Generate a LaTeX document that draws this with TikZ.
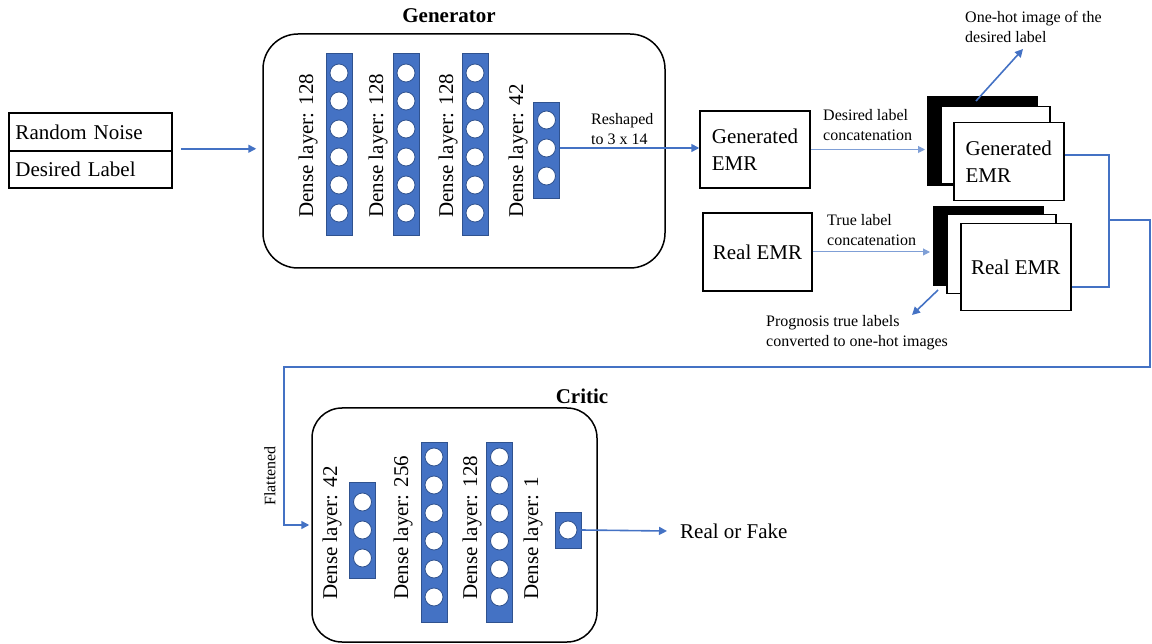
\documentclass[tikz,border=0pt]{standalone}
\usepackage{fontspec}
\setmainfont{Liberation Serif}
\usetikzlibrary{arrows.meta}
\definecolor{lay}{HTML}{4472C4}
\definecolor{layedge}{HTML}{2F528F}
\definecolor{flow}{HTML}{4472C4}
\definecolor{thinflow}{HTML}{7F9FD6}
\begin{document}
\begin{tikzpicture}[x=1pt,y=-1pt,
  big/.style={font=\fontsize{21}{27}\selectfont},
  small/.style={font=\fontsize{16}{20}\selectfont},
  title/.style={font=\fontsize{21}{26}\selectfont\bfseries},
  layer/.style={draw=layedge, fill=lay, line width=0.8pt, minimum width=26pt, inner sep=0pt},
  unit/.style={circle, draw=layedge, fill=white, line width=0.8pt, minimum size=18pt, inner sep=0pt},
  laylabel/.style={big, rotate=90, anchor=west, inner sep=0pt},
  plainbox/.style={draw, line width=1.5pt, inner sep=0pt},
  sheet/.style={draw, line width=1.5pt, inner sep=0pt, anchor=north west},
  note/.style={small, align=left, anchor=west, inner sep=0pt},
  arr/.style={draw=flow, line width=1.6pt, -{Triangle[length=8pt,width=8pt]}},
  thinarr/.style={draw=thinflow, line width=1pt, -{Triangle[length=7pt,width=7pt]}},
  wire/.style={draw=flow, line width=1.6pt}]
\useasboundingbox (0,0) rectangle (1152,644);

% ---------- inputs ----------
\node[plainbox, minimum width=163pt, minimum height=38pt, text width=150pt, align=left, big] (rn) at (90.5,132) {Random Noise};
\node[plainbox, minimum width=163pt, minimum height=37pt, text width=150pt, align=left, big] (dl) at (90.5,169.5) {Desired Label};

% ---------- generator ----------
\node[draw, line width=1.5pt, rounded corners=35pt, minimum width=402pt, minimum height=234pt] (gen) at (464,151) {};
\node[title] (gentitle) at (449,16) {Generator};

\node[layer, minimum height=182pt] (g1) at (339,144) {};
\node[layer, minimum height=182pt] (g2) at (406,144) {};
\node[layer, minimum height=182pt] (g3) at (475,144) {};
\node[layer, minimum height=96pt] (g4) at (546.5,150) {};
\foreach \k in {0,...,5}{
  \node[unit] (g1u\k) at (339,{73+28*\k}) {};
  \node[unit] (g2u\k) at (406,{73+28*\k}) {};
  \node[unit] (g3u\k) at (475,{73+28*\k}) {};
}
\foreach \k in {0,1,2}{
  \node[unit] (g4u\k) at (546.5,{120+28*\k}) {};
}
\node[laylabel] (g1t) at (308,218) {Dense layer: 128};
\node[laylabel] (g2t) at (378,218) {Dense layer: 128};
\node[laylabel] (g3t) at (448,218) {Dense layer: 128};
\node[laylabel] (g4t) at (518,218) {Dense layer: 42};

\node[note] (reshape) at (591,129.5) {Reshaped\\to 3 x 14};

% ---------- EMR boxes ----------
\node[plainbox, minimum width=110pt, minimum height=77pt, big, align=left] (gE) at (755,149.5) {Generated\\EMR};
\node[plainbox, minimum width=109pt, minimum height=78pt, big] (rE) at (757.5,252) {Real EMR};

% generated stack
\node[sheet, fill=black, minimum width=109pt, minimum height=89pt] (gb) at (927,96) {};
\node[sheet, fill=white, minimum width=109pt, minimum height=77pt] (gm) at (940,106) {};
\node[sheet, fill=white, minimum width=110pt, minimum height=78pt, big, align=left] (gf) at (953,122) {Generated\\EMR};

% real stack
\node[sheet, fill=black, minimum width=109pt, minimum height=79pt] (rb) at (933,206) {};
\node[sheet, fill=white, minimum width=109pt, minimum height=79pt] (rm) at (946,214) {};
\node[sheet, fill=white, minimum width=110pt, minimum height=87pt, big] (rf) at (960,223) {Real EMR};

% ---------- notes ----------
\node[note] (dlc) at (823,125) {Desired label\\concatenation};
\node[note] (tlc) at (827,230) {True label\\concatenation};
\node[note] (onehot) at (965,27) {One-hot image of the\\desired label};
\node[note] (progn) at (766,333) {Prognosis true labels\\converted to one-hot images};

% ---------- critic ----------
\node[draw, line width=1.5pt, rounded corners=30pt, minimum width=285pt, minimum height=234pt] (crit) at (454.5,525) {};
\node[title] (crittitle) at (582,396) {Critic};

\node[layer, minimum height=96pt] (c1) at (362.5,530) {};
\node[layer, minimum height=180pt] (c2) at (434,532) {};
\node[layer, minimum height=180pt] (c3) at (499.5,532) {};
\node[layer, minimum height=36pt] (c4) at (568,530) {};
\foreach \k in {0,1,2}{
  \node[unit] (c1u\k) at (362.5,{502+28*\k}) {};
}
\foreach \k in {0,...,5}{
  \node[unit] (c2u\k) at (434,{457+28*\k}) {};
  \node[unit] (c3u\k) at (499.5,{457+28*\k}) {};
}
\node[unit] (c4u0) at (568,530) {};
\node[laylabel] (c1t) at (332,600) {Dense layer: 42};
\node[laylabel] (c2t) at (403,600) {Dense layer: 256};
\node[laylabel] (c3t) at (472,600) {Dense layer: 128};
\node[laylabel] (c4t) at (533,600) {Dense layer: 1};

\node[small, rotate=90] (flat) at (270,476) {Flattened};
\node[big, anchor=west, inner sep=0pt] (rof) at (680,531) {Real or Fake};

% ---------- connectors ----------
\draw[arr] ([xshift=8pt,yshift=3pt]rn.south east) -- ([xshift=-6pt,yshift=3pt]rn.south east -| gen.west);
\draw[arr] (g4u1.east -| g4.east) -- (g4u1.east -| gE.west);
\draw[thinarr] (gE.east) -- ([xshift=-2pt]gE.east -| gb.west);
\draw[thinarr] (rE.east) -- ([xshift=-3pt]rE.east -| rb.west);

\coordinate (oh1) at (976,101);
\coordinate (oh2) at (1023,49);
\draw[arr] (oh1) -- (oh2);
\coordinate (pg1) at (938,290);
\coordinate (pg2) at (912,315);
\draw[arr] (pg1) -- (pg2);

\coordinate (ja) at (1109,155);
\coordinate (jb) at (1109,287);
\coordinate (jc) at (1109,220);
\coordinate (jd) at (1150,220);
\coordinate (je) at (1150,367);
\coordinate (jf) at (284,367);
\draw[wire] (ja -| gf.east) -- (ja) -- (jb) -- (jb -| rf.east);
\draw[arr] (jc) -- (jd) -- (je) -- (jf) -- (jf |- crit.west) -- ([xshift=-2pt]crit.west);

\draw[arr] (c4u0.east -| c4.east) -- ([xshift=-13pt]rof.west);
\end{tikzpicture}
\end{document}
